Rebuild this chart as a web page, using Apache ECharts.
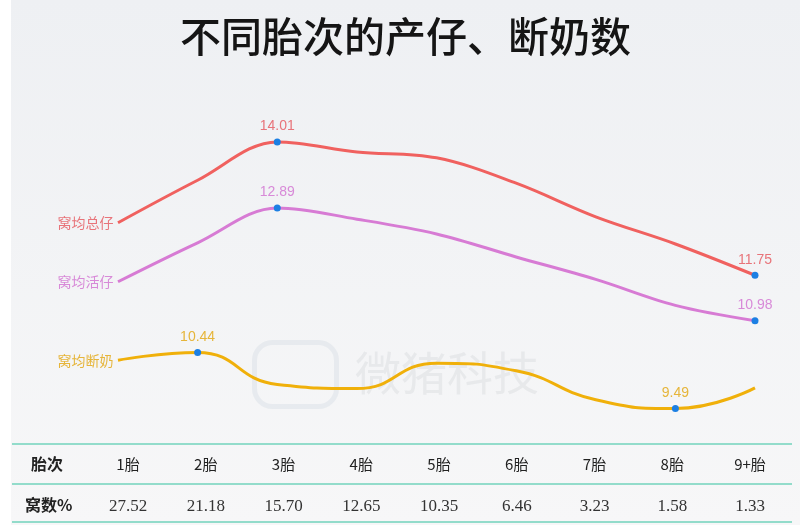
<!DOCTYPE html>
<html>
<head>
<meta charset="utf-8">
<script src="https://cdn.jsdelivr.net/npm/echarts@6/dist/echarts.min.js"></script>
<style>
html,body{margin:0;padding:0;background:#fff;}
#main{width:800px;height:525px;}
</style>
</head>
<body>
<div id="main"></div>
<script>
// ---- data ----
var titleText = '不同胎次的产仔、断奶数';
var parities = ['1胎','2胎','3胎','4胎','5胎','6胎','7胎','8胎','9+胎'];
var litterPct = ['27.52','21.18','15.70','12.65','10.35','6.46','3.23','1.58','1.33'];
var seriesNames = ['窝均总仔','窝均活仔','窝均断奶'];
var totalBorn = [12.64, 13.36, 14.01, 13.84, 13.74, 13.31, 12.74, 12.28, 11.75];
var liveBorn  = [11.64, 12.30, 12.89, 12.70, 12.45, 12.06, 11.68, 11.24, 10.98];
var weaned    = [10.31, 10.44, 9.90, 9.83, 10.26, 10.13, 9.64, 9.49, 9.84];
var rowHeaders = ['胎次','窝数%'];

var lineColors = ['#f0615f','#d77bd4','#f0b00a'];
var labelColors = ['#e8747a','#d88ad8','#e6b53a'];
var smoothness = [0.35, 0.35, 0.5];

function buildData(vals, idx){
  var mx = Math.max.apply(null, vals), mn = Math.min.apply(null, vals);
  return vals.map(function(v, i){
    var item = {value: v};
    if (i === 0) {
      item.symbol = 'circle';
      item.symbolSize = 1;
      item.itemStyle = {color:'rgba(0,0,0,0)'};
      item.label = {show:true, position:'left', distance:4, formatter: seriesNames[idx],
        color: labelColors[idx], fontSize:14, fontFamily:'Noto Sans CJK SC'};
    }
    if (v === mx || v === mn) {
      item.symbol = 'circle';
      item.symbolSize = 7;
      item.itemStyle = {color:'#1c7fe3'};
      item.label = {show:true, position:'top', distance:5, formatter: v.toFixed(2),
        color: labelColors[idx], fontSize:14, fontFamily:'Liberation Sans'};
    }
    return item;
  });
}

var chart = echarts.init(document.getElementById('main'), null, {renderer:'canvas'});
var allVals = [totalBorn, liveBorn, weaned];

var option = {
  backgroundColor: {
    type:'linear', x:0, y:0, x2:0, y2:1,
    colorStops:[{offset:0, color:'#eef0f3'},{offset:1, color:'#f7f7f8'}]
  },
  animation:false,
  title:{
    text: titleText, left:175, top:11,
    textStyle:{fontSize:41, fontWeight:500, color:'#151515', fontFamily:'Noto Sans CJK SC'}
  },
  grid:[
    {left:118, right:45, top:113, height:324.5},
    {left:128, right:50, top:440, height:5}
  ],
  xAxis:[
    {type:'category', gridIndex:0, data:parities, boundaryGap:false, show:false},
    {type:'category', gridIndex:1, data:parities, position:'bottom', boundaryGap:false,
      axisLine:{show:false}, axisTick:{show:false}, splitLine:{show:false},
      axisLabel:{margin:12, fontSize:15, color:'#222', fontFamily:'Noto Sans CJK SC', interval:0}},
    {type:'category', gridIndex:1, data:litterPct, position:'bottom', offset:42, boundaryGap:false,
      axisLine:{show:false}, axisTick:{show:false}, splitLine:{show:false},
      axisLabel:{margin:11, fontSize:17, color:'#333', fontFamily:'Liberation Serif', interval:0}}
  ],
  yAxis:[
    {type:'value', gridIndex:0, min:9, max:14.5, show:false},
    {type:'value', gridIndex:1, show:false}
  ],
  series: allVals.map(function(vals, idx){
    return {
      name: seriesNames[idx], type:'line', xAxisIndex:0, yAxisIndex:0,
      smooth:smoothness[idx], symbol:'none', showAllSymbol:true,
      lineStyle:{color: lineColors[idx], width:3},
      itemStyle:{color: lineColors[idx]},
      data: buildData(vals, idx),
      z: 3
    };
  }),
  graphic:[
    {type:'rect', left:0, top:0, shape:{width:11, height:525}, style:{fill:'#ffffff'}, z:-1},
    {type:'text', left:355, top:350, z:-1,
      style:{text:'微猪科技', fontSize:46, fill:'rgba(185,190,196,0.22)', fontFamily:'Noto Sans CJK SC'}},
    {type:'rect', left:252, top:340, z:-1,
      shape:{width:82, height:64, r:18},
      style:{fill:'none', stroke:'rgba(190,205,215,0.25)', lineWidth:5}},
    {type:'line', z:5, shape:{x1:12, y1:444, x2:792, y2:444}, style:{stroke:'#93dccb', lineWidth:2}},
    {type:'line', z:5, shape:{x1:12, y1:484, x2:792, y2:484}, style:{stroke:'#93dccb', lineWidth:2}},
    {type:'line', z:5, shape:{x1:12, y1:522, x2:792, y2:522}, style:{stroke:'#93dccb', lineWidth:2}},
    {type:'text', left:31, top:456, z:5,
      style:{text: rowHeaders[0], fontSize:16, fontWeight:'bold', fill:'#222', fontFamily:'Noto Sans CJK SC'}},
    {type:'text', left:25, top:497, z:5,
      style:{text: rowHeaders[1], fontSize:16, fontWeight:'bold', fill:'#222', fontFamily:'Noto Sans CJK SC'}}
  ]
};
chart.setOption(option);
</script>
</body>
</html>
